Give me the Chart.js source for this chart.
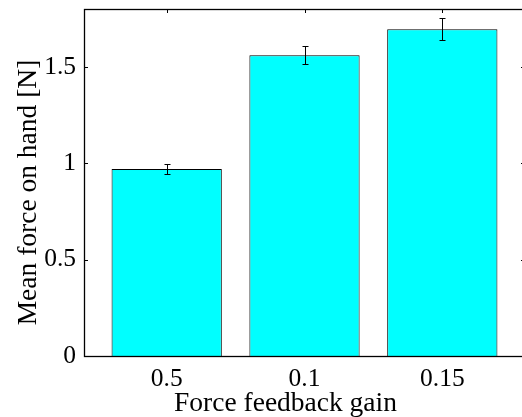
<!DOCTYPE html>
<html>
<head>
<meta charset="utf-8">
<script src="https://cdn.jsdelivr.net/npm/chart.js@4/dist/chart.umd.min.js"></script>
<style>
html,body{margin:0;padding:0;background:#fff;overflow:hidden;width:522px;height:417px;}
#wrap{position:absolute;left:0;top:0;width:530px;height:417px;}
</style>
</head>
<body>
<div id="wrap"><canvas id="c" width="530" height="417"></canvas></div>
<script>
// ---- data ----
const categories = ['0.5', '0.1', '0.15'];
const meanForce = [0.97, 1.56, 1.695];
const forceError = [0.026, 0.046, 0.057];
const yTicks = [0, 0.5, 1, 1.5];
const yTickLabels = ['0', '0.5', '1', '1.5'];
const xLabel = 'Force feedback gain';
const yLabel = 'Mean force on hand [N]';

const FONT = '"Liberation Serif", "Times New Roman", serif';
const FS = 25.5;
const TS = 27.5;

const points = meanForce.map((v, i) => ({ x: i + 1, y: v }));

const frame = {
  id: 'frame',
  beforeDatasetsDraw(chart) {
    const { ctx, chartArea: a, scales: { x, y } } = chart;
    ctx.save();
    ctx.strokeStyle = '#000';
    ctx.lineWidth = 1;
    ctx.beginPath();
    yTicks.forEach(v => {
      const py = Math.round(y.getPixelForValue(v)) + 0.5;
      ctx.moveTo(a.left, py); ctx.lineTo(a.left + 4, py);
      ctx.moveTo(a.right, py); ctx.lineTo(a.right - 4, py);
    });
    categories.forEach((c, i) => {
      const px = Math.round(x.getPixelForValue(i + 1)) + 0.5;
      ctx.moveTo(px, a.top); ctx.lineTo(px, a.top + 4);
      ctx.moveTo(px, a.bottom); ctx.lineTo(px, a.bottom - 4);
    });
    ctx.stroke();
    ctx.restore();
  },
  afterDatasetsDraw(chart) {
    const { ctx, chartArea: a, scales: { x, y } } = chart;
    ctx.save();
    // error bars
    ctx.strokeStyle = '#000';
    ctx.lineWidth = 1;
    ctx.beginPath();
    meanForce.forEach((v, i) => {
      const px = Math.round(x.getPixelForValue(i + 1)) + 0.5;
      const top = y.getPixelForValue(v + forceError[i]);
      const bot = y.getPixelForValue(v - forceError[i]);
      ctx.moveTo(px, top); ctx.lineTo(px, bot);
      ctx.moveTo(px - 3, Math.round(top) + 0.5); ctx.lineTo(px + 3, Math.round(top) + 0.5);
      ctx.moveTo(px - 3, Math.round(bot) + 0.5); ctx.lineTo(px + 3, Math.round(bot) + 0.5);
    });
    ctx.stroke();
    // box
    ctx.lineWidth = 1.3;
    ctx.strokeRect(Math.round(a.left) + 0.5, Math.round(a.top) + 0.5,
                   Math.round(a.right - a.left), Math.round(a.bottom - a.top));
    // axis titles
    ctx.fillStyle = '#000';
    ctx.font = TS + 'px ' + FONT;
    ctx.textAlign = 'center';
    ctx.textBaseline = 'alphabetic';
    ctx.fillText(xLabel, 285.5, 411);
    ctx.translate(36, 192.5);
    ctx.rotate(-Math.PI / 2);
    ctx.fillText(yLabel, 0, 0);
    ctx.restore();
  }
};

new Chart(document.getElementById('c'), {
  type: 'bar',
  data: {
    datasets: [{
      data: points,
      backgroundColor: '#00ffff',
      borderColor: '#000',
      borderWidth: 1,
      barPercentage: 0.8,
      categoryPercentage: 1
    }]
  },
  options: {
    responsive: false,
    animation: false,
    devicePixelRatio: 1,
    layout: { padding: { left: 0, right: 5, top: 9, bottom: 0 } },
    plugins: { legend: { display: false }, tooltip: { enabled: false } },
    scales: {
      x: {
        type: 'linear',
        offset: false,
        min: 0.4, max: 3.6,
        grid: { display: false, drawTicks: false, offset: false },
        border: { display: false },
        afterBuildTicks(s) { s.ticks = categories.map((c, i) => ({ value: i + 1 })); },
        afterFit(s) { s.height = 61; s.paddingLeft = 0; s.paddingRight = 0; },
        ticks: {
          padding: 8,
          color: '#000',
          font: { family: FONT, size: FS },
          callback: (v) => categories[v - 1],
          maxRotation: 0, autoSkip: false
        }
      },
      y: {
        min: 0, max: 1.8,
        grid: { display: false, drawTicks: false },
        border: { display: false },
        afterBuildTicks(s) { s.ticks = yTicks.map(v => ({ value: v })); },
        afterFit(s) { s.width = 84; s.paddingTop = 0; s.paddingBottom = 0; },
        ticks: {
          padding: 8,
          color: '#000',
          font: { family: FONT, size: FS },
          callback: (v) => yTickLabels[yTicks.indexOf(v)]
        }
      }
    }
  },
  plugins: [frame]
});
</script>
</body>
</html>
